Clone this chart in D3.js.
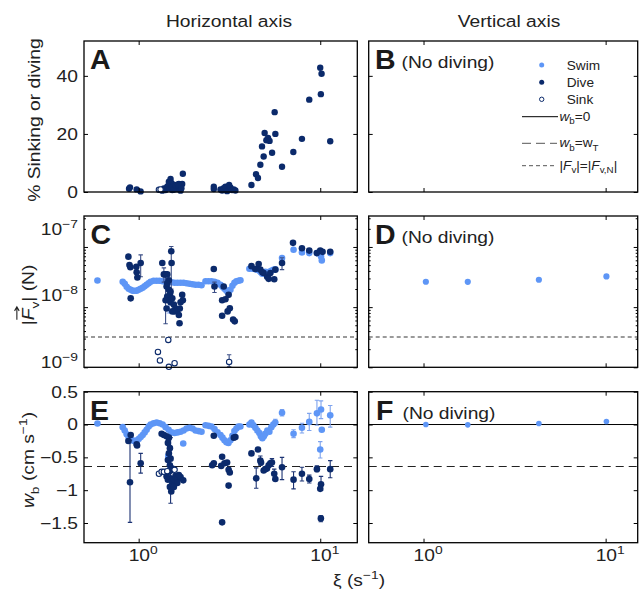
<!DOCTYPE html>
<html>
<head>
<meta charset="utf-8">
<script src="https://cdn.jsdelivr.net/npm/d3@7"></script>
<style>
  body { margin: 0; background: #fff; }
  svg { display: block; }
  text { font-family: "Liberation Sans", Arial, Helvetica, sans-serif; fill: #222; }
</style>
</head>
<body>
<script>
// ---------------- data ----------------
// ξ (s^-1) on every x axis.  Rows: [ξ, value] or [ξ, value, low, high] when an error bar is shown.

// Panel A: % of time sinking or diving, horizontal-axis experiments
const diveA = [
  [0.885, 1.1], [0.896, 1.6], [0.975, 0.9], [1.025, 0.2],
  [1.349, 0.46], [1.377, 1.26], [1.407, 0.69], [1.437, 1.83], [1.467, 3.54], [1.499, 4.46],
  [1.512, 3.08], [1.532, 0.69], [1.563, 2.51], [1.597, 0.91], [1.632, 1.83], [1.665, 0.91],
  [1.665, 2.74], [1.701, 2.51], [1.701, 0.46], [1.737, 2.74], [1.751, 6.28], [1.45, 2.0],
  [1.48, 1.2], [1.52, 1.5], [1.55, 0.8], [1.60, 2.2], [1.65, 2.6], [1.72, 1.3],
  [2.593, 1.8], [2.593, 1.0], [2.822, 0.9], [2.88, 0.5], [2.94, 1.3], [3.006, 1.8], [3.07, 0.3],
  [3.15, 2.4], [3.20, 1.6], [3.27, 0.7], [3.34, 0.9], [3.41, 0.5],
  [4.18, 2.4], [4.43, 6.1], [4.54, 4.8], [4.68, 9.4], [4.78, 15.7], [4.88, 12.2], [4.94, 20.3],
  [5.05, 17.8], [5.16, 18.6], [5.26, 17.6], [5.43, 13.5], [5.61, 27.5], [5.66, 20.0], [6.16, 8.7],
  [7.11, 13.8], [7.93, 18.3], [8.70, 31.8], [10.0, 42.8], [10.17, 40.7], [10.08, 33.7], [11.35, 17.5]
];
const sinkA = [[1.293, 0.8], [1.32, 0.9]];

// Panel C: vertical force magnitude |Fv| (N)
const swimC = [
  [0.593, 2.77e-8],
  [0.817, 2.64e-8], [0.838, 2.44e-8], [0.859, 2.18e-8], [0.881, 2.02e-8], [0.904, 1.94e-8],
  [0.927, 1.87e-8], [0.951, 1.87e-8], [0.975, 1.87e-8], [1.000, 1.94e-8], [1.026, 2.02e-8],
  [1.052, 2.10e-8], [1.079, 2.22e-8], [1.106, 2.35e-8], [1.135, 2.49e-8], [1.164, 2.64e-8],
  [1.209, 2.74e-8], [1.256, 2.74e-8], [1.304, 2.74e-8], [1.355, 2.69e-8], [1.407, 2.64e-8],
  [1.462, 2.64e-8], [1.518, 2.59e-8], [1.577, 2.54e-8], [1.637, 2.54e-8], [1.701, 2.54e-8],
  [1.767, 2.54e-8], [1.835, 2.49e-8], [1.906, 2.44e-8], [1.980, 2.40e-8], [2.057, 2.35e-8],
  [2.136, 2.35e-8], [2.219, 2.31e-8],
  [2.335, 2.69e-8], [2.425, 2.69e-8], [2.518, 2.69e-8], [2.616, 2.64e-8], [2.717, 2.54e-8],
  [2.822, 2.35e-8], [2.894, 2.18e-8], [2.968, 2.02e-8], [3.044, 1.87e-8], [3.122, 1.73e-8],
  [3.202, 1.94e-8], [3.284, 2.26e-8], [3.369, 2.54e-8], [3.455, 2.69e-8], [3.543, 2.74e-8],
  [3.634, 2.80e-8],
  [4.073, 4.35e-8], [4.18, 4.43e-8], [4.284, 4.35e-8], [4.394, 4.27e-8], [4.506, 4.19e-8],
  [4.622, 4.03e-8], [4.711, 3.80e-8], [4.8, 3.59e-8], [4.893, 3.73e-8], [4.985, 3.87e-8],
  [5.113, 3.73e-8], [5.245, 3.87e-8], [5.38, 4.03e-8], [5.518, 4.19e-8], [5.657, 4.27e-8],
  [6.16, 6.56e-8], [7.13, 9.0e-8], [7.93, 8.1e-8], [8.70, 7.9e-8], [9.59, 7.9e-8],
  [10.1, 6.97e-8], [10.2, 5.98e-8], [10.0, 8.1e-8], [11.35, 7.9e-8],
  [1.467, 1.5e-8, 8e-9, 2.8e-8]
];
const diveC = [
  [0.878, 6.9e-8], [0.89, 5.0e-8], [0.90, 4.6e-8], [0.971, 4.7e-8], [0.975, 3.8e-8],
  [0.984, 3.1e-8], [1.026, 5.4e-8, 3.2e-8, 7.4e-8], [0.904, 1.4e-8],
  [1.349, 5.4e-8], [1.377, 3.5e-8, 2.6e-8, 4.5e-8], [1.407, 3.5e-8], [1.437, 3.5e-8],
  [1.467, 1.95e-8], [1.486, 1.6e-8], [1.512, 8.5e-8, 2.0e-8, 1.02e-7], [1.518, 5.4e-8],
  [1.437, 1.5e-8], [1.467, 1.3e-8], [1.499, 1.2e-8], [1.425, 9.5e-9], [1.532, 1.4e-8],
  [1.563, 1.1e-8], [1.597, 9.5e-9], [1.632, 8.9e-9], [1.685, 9.5e-9], [1.701, 1.2e-8],
  [1.737, 1.6e-8], [1.751, 1.3e-8], [1.665, 7.4e-9], [1.679, 5.4e-9], [1.577, 8.5e-9],
  [1.532, 8.5e-9], [1.499, 1.8e-8], [1.467, 2.8e-8], [1.425, 2.2e-8], [1.437, 2.5e-8],
  [1.407, 1.3e-8, 5.3e-9, 3.5e-8],
  [2.593, 4.3e-8], [2.616, 2.2e-8, 1.75e-8, 2.6e-8], [2.941, 2.2e-8], [2.882, 1.3e-8],
  [3.006, 1.35e-8], [3.129, 1.6e-8], [3.09, 8.5e-9], [3.176, 9.6e-9], [2.882, 7.2e-9],
  [3.313, 6.2e-9], [3.381, 5.8e-9],
  [4.18, 4.8e-8], [4.58, 5.2e-8], [4.68, 4.2e-8], [4.88, 3.7e-8], [5.10, 3.2e-8], [5.31, 3.7e-8],
  [5.58, 2.9e-8], [5.66, 4.2e-8], [4.39, 4.3e-8], [4.80, 3.8e-8], [5.20, 2.95e-8],
  [6.16, 5.4e-8, 4.2e-8, 6.6e-8],
  [7.08, 1.17e-7], [7.93, 9.5e-8], [8.70, 8.7e-8], [9.58, 7.9e-8], [10.0, 8.7e-8],
  [10.3, 8.3e-8], [11.35, 8.3e-8]
];
const sinkC = [
  [1.456, 2.85e-9], [1.277, 1.8e-9], [1.31, 1.3e-9], [1.467, 1.02e-9], [1.577, 1.17e-9],
  [3.15, 1.23e-9, 1.02e-9, 1.62e-9]
];

// Panel D: vertical-axis experiments (swimming only)
const swimD = [[1.03, 2.64e-8], [1.75, 2.63e-8], [4.3, 2.85e-8], [10.1, 3.24e-8]];

// Panel E: vertical velocity w_b (cm s^-1)
const swimE = [
  [0.593, 0.015],
  [0.817, -0.04], [0.838, -0.09], [0.859, -0.15], [0.881, -0.20], [0.904, -0.23],
  [0.927, -0.245], [0.951, -0.25], [0.975, -0.245], [1.000, -0.22], [1.026, -0.19],
  [1.052, -0.16], [1.079, -0.12], [1.106, -0.08], [1.135, -0.03], [1.164, 0.00],
  [1.209, 0.02], [1.256, 0.03], [1.304, 0.02], [1.355, 0.00], [1.407, -0.04],
  [1.462, -0.08], [1.518, -0.12], [1.577, -0.13], [1.637, -0.12], [1.701, -0.11],
  [1.767, -0.09], [1.835, -0.06], [1.906, -0.05], [1.980, -0.06], [2.057, -0.09],
  [2.136, -0.10], [2.219, -0.11], [1.76, -0.29],
  [2.335, -0.01], [2.425, -0.02], [2.518, -0.03], [2.616, -0.07], [2.717, -0.12],
  [2.822, -0.16], [2.894, -0.20], [2.968, -0.24], [3.044, -0.27], [3.122, -0.28],
  [3.202, -0.24], [3.284, -0.17], [3.369, -0.10], [3.455, -0.06], [3.543, -0.03], [3.634, -0.03],
  [4.073, 0.0], [4.18, 0.03], [4.284, -0.01], [4.394, -0.05], [4.506, -0.09], [4.622, -0.13],
  [4.711, -0.18], [4.8, -0.21], [4.893, -0.18], [4.985, -0.14], [5.113, -0.09], [5.245, -0.11],
  [5.38, -0.04], [5.518, 0.0], [5.657, 0.03, 0.0, 0.08],
  [6.16, 0.18, 0.13, 0.23], [7.13, -0.14, -0.20, -0.08], [7.93, -0.05, -0.13, 0.02],
  [8.70, 0.04, -0.09, 0.17], [9.59, 0.17, -0.01, 0.37], [10.1, 0.23, 0.09, 0.36],
  [10.2, -0.08], [10.0, -0.38, -0.51, -0.26], [11.35, 0.14, -0.04, 0.29],
  [1.455, -0.48, -0.72, -0.26]
];
const diveE = [
  [0.878, -0.25], [0.904, -0.16], [0.896, -0.88, -1.49, -0.24], [0.975, -0.30], [0.98, -0.32],
  [1.026, -0.59, -0.74, -0.44],
  [1.338, -0.14], [1.377, -0.16], [1.425, -0.18], [1.467, -0.20], [1.449, -0.28], [1.467, -0.44],
  [1.499, -0.52], [1.449, -0.54], [1.486, -0.62], [1.467, -0.72], [1.449, -0.84], [1.499, -0.82],
  [1.532, -0.89], [1.486, -0.95], [1.512, -1.02], [1.563, -0.84], [1.597, -0.78], [1.644, -0.82],
  [1.701, -0.80], [1.760, -0.85], [1.632, -0.89], [1.665, -0.77], [1.425, -0.79], [1.563, -0.95],
  [1.532, -0.67], [1.486, -0.36], [1.499, -0.70, -1.20, -0.20],
  [2.593, -0.17], [2.54, -0.62], [2.593, -0.59], [2.882, -0.49], [2.848, -0.63], [2.968, -0.59],
  [3.07, -0.58], [3.129, -0.69], [3.176, -0.73], [3.129, -0.93], [2.882, -1.49], [3.343, -0.20],
  [3.41, -0.19],
  [4.18, -0.44], [4.54, -0.38], [4.44, -0.82, -0.97, -0.66], [4.68, -0.55, -0.62, -0.48],
  [4.72, -0.58], [4.88, -0.70], [4.98, -0.68], [5.09, -0.67], [5.2, -0.62], [5.31, -0.59],
  [5.42, -0.58, -0.64, -0.52], [5.58, -0.75, -0.84, -0.68], [5.66, -0.83],
  [6.16, -0.65, -0.84, -0.50], [7.13, -0.84, -0.98, -0.72], [7.93, -0.75, -0.86, -0.65],
  [8.70, -0.83, -0.89, -0.77], [9.59, -0.68, -0.72, -0.63], [10.1, -0.91, -1.0, -0.79],
  [10.0, -0.98], [10.08, -1.43, -1.48, -1.39], [11.35, -0.68, -0.81, -0.55]
];
const sinkE = [[1.293, -0.75], [1.338, -0.72], [1.377, -0.72], [1.437, -0.71], [1.577, -0.69]];

// Panel F: vertical-axis experiments (swimming only)
const swimF = [[1.03, 0.0], [1.75, -0.005], [4.3, 0.015], [10.1, 0.045]];

// reference levels
const wbZero = 0;
const wbTerminal = -0.64;        // w_b = w_T
const forceNeutral = 3.2e-9;     // |Fv| = |Fv,N|

// axis domains and ticks
const xDomainLeft = [0.5, 16];
const xDomainRight = [0.5, 15];
const pctDomain = [0, 52];
const forceDomain = [1e-9, 3.27e-7];
const wbDomain = [-1.8, 0.5];
const xTicks = [1, 10];
const xTickExp = ["0", "1"];
const pctTicks = [0, 20, 40];
const forceTicks = [1e-9, 1e-8, 1e-7];
const forceTickExp = ["−9", "−8", "−7"];
const forceMinor = [2e-9, 3e-9, 4e-9, 5e-9, 6e-9, 7e-9, 8e-9, 9e-9,
                    2e-8, 3e-8, 4e-8, 5e-8, 6e-8, 7e-8, 8e-8, 9e-8, 2e-7, 3e-7];
const wbTicks = [-1.5, -1, -0.5, 0, 0.5];
const wbTickLabels = ["−1.5", "−1", "−0.5", "0", "0.5"];

// ---------------- layout & style ----------------
const W = 639, H = 591;
const FS = 16.3, STRETCH = 1.18;
const SWIM = "#5e96f6", DIVE = "#0b2a6b";
const forceLabelNudge = [0.5, -6, -12];

const svg = d3.select("body").append("svg").attr("width", W).attr("height", H);

const colL = [84, 357.3], colR = [368.7, 637.7];
const rowTop = [192, 41], rowMid = [367.3, 216], rowBot = [542.7, 391.7];

const xL = d3.scaleLog().domain(xDomainLeft).range(colL);
const xR = d3.scaleLog().domain(xDomainRight).range(colR);
const yPct = d3.scaleLinear().domain(pctDomain).range(rowTop);
const yForce = d3.scaleLog().domain(forceDomain).range(rowMid);
const yWb = d3.scaleLinear().domain(wbDomain).range(rowBot);

// text with sub/superscripts; segments are strings or [text, "sub"|"sup"|null, italic]
function rich(parent, x, y, segs, opt = {}) {
  const size = opt.size || FS;
  const s = opt.stretch === undefined ? STRETCH : opt.stretch;
  let tr = `translate(${x},${y})`;
  if (opt.rotate) tr += ` rotate(${opt.rotate})`;
  if (s !== 1) tr += ` scale(${s},1)`;
  const t = parent.append("text").attr("transform", tr)
    .attr("font-size", size).attr("text-anchor", opt.anchor || "start");
  if (opt.weight) t.attr("font-weight", opt.weight);
  if (opt.fill) t.style("fill", opt.fill);
  let shift = 0;
  segs.forEach(seg => {
    const [txt, mode, it] = typeof seg === "string" ? [seg] : seg;
    const target = mode === "sub" ? size * 0.3 : mode === "sup" ? -size * 0.42 : 0;
    const ts = t.append("tspan").attr("dy", target - shift).text(txt);
    if (mode) ts.attr("font-size", size * 0.72);
    if (it) ts.attr("font-style", "italic");
    shift = target;
  });
  return t;
}

function tidy(sel) {
  sel.select(".domain").remove();
  sel.selectAll(".tick line").attr("stroke", "#000").attr("stroke-width", 1);
}

function frame(g, x, y, yTicks, yMinor) {
  const [xa, xb] = x.range(), [ya, yb] = y.range();
  const put = (axis, tx, ty) => g.append("g").attr("transform", `translate(${tx},${ty})`).call(axis).call(tidy);
  put(d3.axisBottom(x).tickValues(xTicks).tickSize(-4).tickFormat(""), 0, ya);
  put(d3.axisTop(x).tickValues(xTicks).tickSize(-4).tickFormat(""), 0, yb);
  put(d3.axisLeft(y).tickValues(yTicks).tickSize(-4).tickFormat(""), xa, 0);
  put(d3.axisRight(y).tickValues(yTicks).tickSize(-4).tickFormat(""), xb, 0);
  if (yMinor) {
    put(d3.axisLeft(y).tickValues(yMinor).tickSize(-2).tickFormat(""), xa, 0);
    put(d3.axisRight(y).tickValues(yMinor).tickSize(-2).tickFormat(""), xb, 0);
  }
  g.append("rect").attr("x", xa).attr("y", yb).attr("width", xb - xa).attr("height", ya - yb)
    .attr("fill", "none").attr("stroke", "#000").attr("stroke-width", 1.3);
}

function hline(g, x, y, v, color, dash, width) {
  const [xa, xb] = x.range();
  g.append("line").attr("x1", xa).attr("x2", xb).attr("y1", y(v)).attr("y2", y(v))
    .attr("stroke", color).attr("stroke-width", width).attr("stroke-dasharray", dash);
}

function errorBars(g, x, y, data, color) {
  g.append("g").selectAll("path").data(data.filter(d => d.length > 2)).join("path")
    .attr("d", d => {
      const cx = x(d[0]), lo = y(d[2]), hi = y(d[3]);
      return `M${cx},${lo}V${hi}M${cx - 2.2},${lo}H${cx + 2.2}M${cx - 2.2},${hi}H${cx + 2.2}`;
    })
    .attr("fill", "none").attr("stroke", color).attr("stroke-width", 1.1);
}

function dots(g, x, y, data, fill, r) {
  g.append("g").selectAll("circle").data(data).join("circle")
    .attr("cx", d => x(d[0])).attr("cy", d => y(d[1])).attr("r", r).attr("fill", fill);
}

function rings(g, x, y, data) {
  g.append("g").selectAll("circle").data(data).join("circle")
    .attr("cx", d => x(d[0])).attr("cy", d => y(d[1])).attr("r", 2.7)
    .attr("fill", "#fff").attr("stroke", DIVE).attr("stroke-width", 1.1);
}

function letter(g, x, y, ch, note) {
  rich(g, x, y, [ch], { size: 28.5, weight: "bold", stretch: 1, fill: "#1a1a1a" });
  if (note) rich(g, x + 26.5, y - 1, [note]);
}

// ---------------- titles ----------------
rich(svg, 229, 27, ["Horizontal axis"], { anchor: "middle" });
rich(svg, 509, 27, ["Vertical axis"], { anchor: "middle" });

// ---------------- panel A ----------------
const gA = svg.append("g");
dots(gA, xL, yPct, diveA, DIVE, 3.2);
rings(gA, xL, yPct, sinkA);
frame(gA, xL, yPct, pctTicks);
letter(gA, 90, 68.5, "A");
pctTicks.forEach(v => rich(gA, 78, yPct(v) + 5.9, [String(v)], { anchor: "end" }));
rich(gA, 40, 120, ["% Sinking or diving"], { rotate: -90, anchor: "middle" });

// ---------------- panel B (legend) ----------------
const gB = svg.append("g");
frame(gB, xR, yPct, pctTicks);
letter(gB, 375, 68.5, "B", "(No diving)");
const lg = gB.append("g");
const LS = 13, LST = 1.05;
lg.append("circle").attr("cx", 541.7).attr("cy", 65).attr("r", 2.5).attr("fill", SWIM);
lg.append("circle").attr("cx", 541.7).attr("cy", 82.3).attr("r", 2.5).attr("fill", DIVE);
lg.append("circle").attr("cx", 541.7).attr("cy", 99.3).attr("r", 2.2).attr("fill", "#fff")
  .attr("stroke", DIVE).attr("stroke-width", 1);
rich(lg, 566.7, 69.6, ["Swim"], { size: LS, stretch: LST });
rich(lg, 566.7, 86.9, ["Dive"], { size: LS, stretch: LST });
rich(lg, 566.7, 103.9, ["Sink"], { size: LS, stretch: LST });
lg.append("line").attr("x1", 522).attr("x2", 558).attr("y1", 116.7).attr("y2", 116.7)
  .attr("stroke", "#000").attr("stroke-width", 1);
lg.append("line").attr("x1", 522).attr("x2", 557).attr("y1", 143.3).attr("y2", 143.3)
  .attr("stroke", "#555").attr("stroke-width", 1).attr("stroke-dasharray", "9,5");
lg.append("line").attr("x1", 522).attr("x2", 557).attr("y1", 165.7).attr("y2", 165.7)
  .attr("stroke", "#555").attr("stroke-width", 1).attr("stroke-dasharray", "4,3");
rich(lg, 559.5, 120.5, [["w", null, true], ["b", "sub"], "=0"], { size: LS, stretch: LST });
rich(lg, 559.5, 147, [["w", null, true], ["b", "sub"], "=w", ["T", "sub"]], { size: LS, stretch: LST });
rich(lg, 559.5, 169.5, ["|", ["F", null, true], ["v", "sub"], "|=|", ["F", null, true], ["v,N", "sub"], "|"], { size: LS, stretch: LST });

// ---------------- panel C ----------------
const gC = svg.append("g");
hline(gC, xL, yForce, forceNeutral, "#7a7a7a", "4,3", 1.5);
errorBars(gC, xL, yForce, swimC, "#7fa4ee");
dots(gC, xL, yForce, swimC, SWIM, 3.3);
errorBars(gC, xL, yForce, diveC, "#3c4f86");
dots(gC, xL, yForce, diveC, DIVE, 3.3);
errorBars(gC, xL, yForce, sinkC, "#3c4f86");
rings(gC, xL, yForce, sinkC);
frame(gC, xL, yForce, forceTicks, forceMinor);
letter(gC, 90.5, 243.5, "C");
forceTicks.forEach((v, i) => rich(gC, 78, yForce(v) + forceLabelNudge[i], ["10", [forceTickExp[i], "sup"]], { anchor: "end" }));
const fLab = rich(gC, 34, 295, ["|", ["F", null, true], ["v", "sub"], "| (N)"], { rotate: -90, anchor: "middle" });
{
  // vector arrow above the F
  const e = fLab.node().getExtentOfChar(1);
  const ay = e.y - 2.5, ax0 = e.x + 0.5, ax1 = e.x + e.width + 1.5;
  const holder = d3.select(fLab.node().parentNode).append("g").attr("transform", fLab.attr("transform"));
  holder.append("path").attr("d", `M${ax0},${ay}H${ax1}M${ax1 - 3.5},${ay - 2.3}L${ax1},${ay}L${ax1 - 3.5},${ay + 2.3}`)
    .attr("fill", "none").attr("stroke", "#222").attr("stroke-width", 1.1);
}

// ---------------- panel D ----------------
const gD = svg.append("g");
hline(gD, xR, yForce, forceNeutral, "#7a7a7a", "4,3", 1.5);
dots(gD, xR, yForce, swimD, SWIM, 3.1);
frame(gD, xR, yForce, forceTicks, forceMinor);
letter(gD, 375, 243.5, "D", "(No diving)");

// ---------------- panel E ----------------
const gE = svg.append("g");
hline(gE, xL, yWb, wbZero, "#000", null, 1);
hline(gE, xL, yWb, wbTerminal, "#222", "8,5", 1.1);
errorBars(gE, xL, yWb, swimE, "#7fa4ee");
dots(gE, xL, yWb, swimE, SWIM, 3.3);
errorBars(gE, xL, yWb, diveE, "#1d3474");
dots(gE, xL, yWb, diveE, DIVE, 3.3);
rings(gE, xL, yWb, sinkE);
frame(gE, xL, yWb, wbTicks);
letter(gE, 90, 419.5, "E");
wbTicks.forEach((v, i) => rich(gE, 78, yWb(v) + 5.9, [wbTickLabels[i]], { anchor: "end" }));
xTicks.forEach((v, i) => rich(gE, xL(v) - 10, 561, ["10", [xTickExp[i], "sup"]]));
rich(gE, 34, 460, [["w", null, true], ["b", "sub"], " (cm s", ["−1", "sup"], ")"], { rotate: -90, anchor: "middle" });

// ---------------- panel F ----------------
const gF = svg.append("g");
hline(gF, xR, yWb, wbZero, "#000", null, 1);
hline(gF, xR, yWb, wbTerminal, "#222", "8,5", 1.1);
frame(gF, xR, yWb, wbTicks);
letter(gF, 376, 419.5, "F", "(No diving)");
dots(gF, xR, yWb, swimF, SWIM, 2.8);
xTicks.forEach((v, i) => rich(gF, xR(v) - 10, 561, ["10", [xTickExp[i], "sup"]]));

// shared x-axis title
rich(svg, 333, 586, ["ξ (s", ["−1", "sup"], ")"]);
</script>
</body>
</html>
